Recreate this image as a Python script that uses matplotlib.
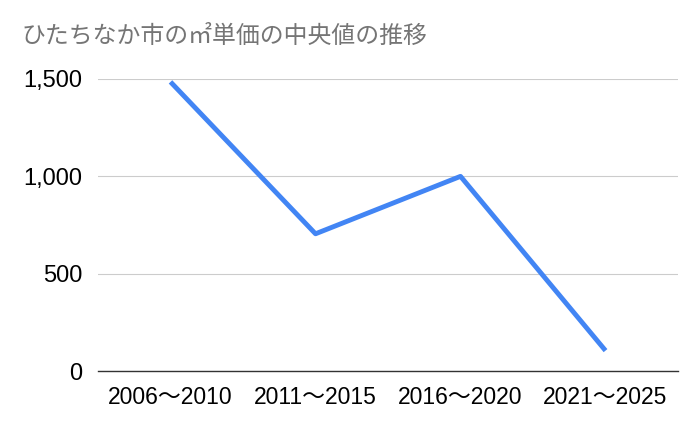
import matplotlib
matplotlib.use('Agg')
import matplotlib.pyplot as plt

plt.rcParams['font.family'] = ['Liberation Sans', 'Noto Sans CJK JP', 'DejaVu Sans']

periods = ['2006〜2010', '2011〜2015', '2016〜2020', '2021〜2025']
median_price = [1485, 705, 1000, 105]
yticks = [0, 500, 1000, 1500]
ytick_labels = ['0', '500', '1,000', '1,500']

fig = plt.figure(figsize=(7, 4.33), dpi=100)
ax = fig.add_axes([0.14, 0.143, 0.8286, 0.6746])

ax.plot(range(len(periods)), median_price, color='#4285f4', lw=3.5, solid_capstyle='butt')

ax.set_xlim(-0.5, len(periods) - 0.5)
ax.set_ylim(0, 1500)
ax.set_xticks(range(len(periods)))
ax.set_xticklabels(periods, fontsize=16.5)
ax.set_yticks(yticks)
ax.set_yticklabels(ytick_labels, fontsize=17)
ax.tick_params(length=0)
ax.tick_params(axis='y', pad=11)
ax.tick_params(axis='x', pad=11)
ax.grid(axis='y', color='#cccccc', lw=0.8)
ax.set_axisbelow(True)
for s in ['top', 'right', 'left']:
    ax.spines[s].set_visible(False)
ax.spines['bottom'].set_color('#333333')
ax.spines['bottom'].set_linewidth(1)
ax.spines['bottom'].set_zorder(3)

fig.text(0.031, 0.916, 'ひたちなか市の㎡単価の中央値の推移', fontsize=17.2, color='#757575',
         va='center', ha='left')

fig.savefig('out.png', dpi=100)
